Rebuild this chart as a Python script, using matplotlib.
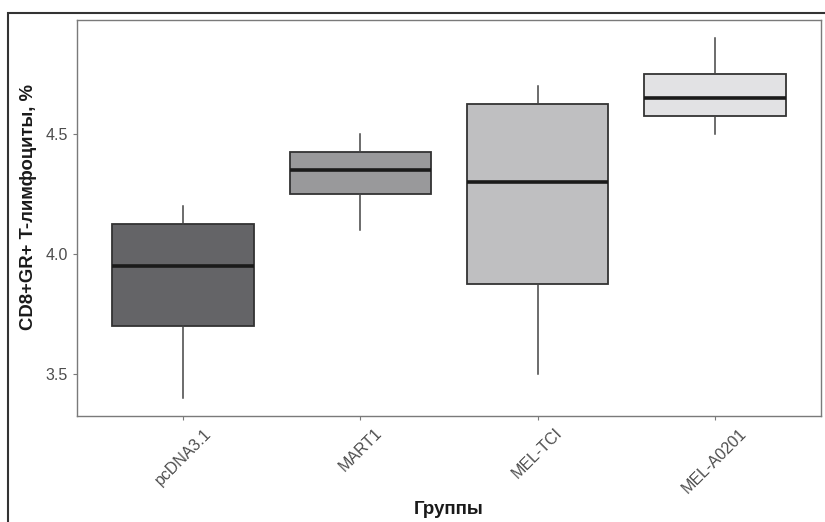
import matplotlib
matplotlib.use("Agg")
import matplotlib.pyplot as plt
from matplotlib.patches import Rectangle

plt.rcParams['font.family'] = ['Liberation Sans', 'DejaVu Sans']

groups = ["pcDNA3.1", "MART1", "MEL-TCI", "MEL-A0201"]
whisker_low = [3.4, 4.1, 3.5, 4.5]
q1 = [3.7, 4.25, 3.875, 4.575]
median = [3.95, 4.35, 4.3, 4.65]
q3 = [4.125, 4.425, 4.625, 4.75]
whisker_high = [4.2, 4.5, 4.7, 4.9]
fills = ["#646467", "#99999b", "#bfbfc1", "#e2e2e4"]

fig = plt.figure(figsize=(8.25, 5.22), dpi=100)
ax = fig.add_axes([77/825, 1-416/522, (821-77)/825, (416-20)/522])

stats = []
for g, lo, a, m, b, hi in zip(groups, whisker_low, q1, median, q3, whisker_high):
    stats.append(dict(label=g, whislo=lo, q1=a, med=m, q3=b, whishi=hi, fliers=[]))

positions = list(range(1, len(groups) + 1))
bp = ax.bxp(stats, positions=positions, widths=0.8, patch_artist=True,
            showcaps=False, showfliers=False,
            boxprops=dict(edgecolor="#333333", linewidth=1.3),
            medianprops=dict(color="#1a1a1a", linewidth=2.6),
            whiskerprops=dict(color="#444444", linewidth=1.1))
for patch, c in zip(bp['boxes'], fills):
    patch.set_facecolor(c)

ax.set_xlim(0.4, 4.6)
ax.set_ylim(3.325, 4.975)
ax.set_yticks([3.5, 4.0, 4.5])
ax.set_yticklabels(["3.5", "4.0", "4.5"])
ax.set_xticks(positions)
ax.set_xticklabels(groups, rotation=45, ha='center', va='top')

for s in ax.spines.values():
    s.set_color("#7a7a7a")
    s.set_linewidth(1.0)
ax.tick_params(axis='both', colors="#7a7a7a", labelcolor="#4d4d4d",
               labelsize=11.5, length=3, width=0.8)
ax.tick_params(axis='x', pad=4)

ax.set_ylabel("CD8+GR+ T-лимфоциты, %", fontsize=13.3, fontweight='bold',
              color="#1a1a1a")
ax.yaxis.set_label_coords(-40/744, (416-207)/396)
fig.text(449/825, 1-510/522, "Группы", fontsize=13.5, fontweight='bold',
         color="#1a1a1a", ha='center', va='center')

fig.patches.append(Rectangle((8/825, -0.1), 1.2, 1 - 13/522 + 0.1,
                             transform=fig.transFigure, fill=False,
                             edgecolor="#333333", linewidth=1.5))

fig.savefig("out.png", dpi=100)
